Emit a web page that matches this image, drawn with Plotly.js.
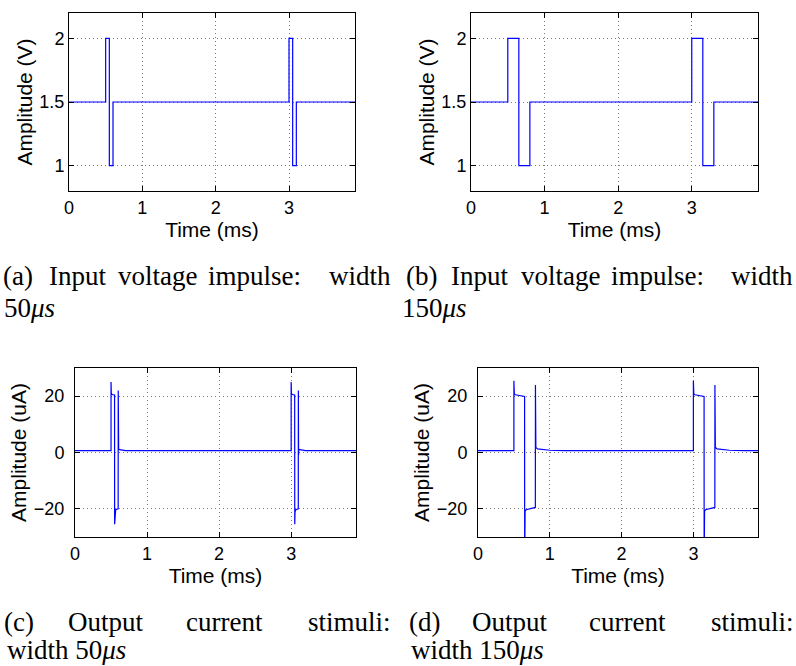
<!DOCTYPE html>
<html>
<head>
<meta charset="utf-8">
<script src="https://cdn.plot.ly/plotly-3.0.1.min.js"></script>
<style>html,body{margin:0;padding:0;background:#fff;}#chart{width:796px;height:666px;}</style>
</head>
<body>
<div id="chart"></div>
<script>
// ---- data ----
// (a) input voltage impulse, width 50 us  (step levels, hold until next time)
const tA = [0, 0.5, 0.55, 0.6, 3.0, 3.05, 3.1, 3.9];
const vA = [1.5, 2, 1, 1.5, 2, 1, 1.5, 1.5];
// (b) input voltage impulse, width 150 us
const tB = [0, 0.5, 0.65, 0.8, 3.0, 3.15, 3.3, 3.9];
const vB = [1.5, 2, 1, 1.5, 2, 1, 1.5, 1.5];
// (c) output current stimuli, width 50 us
const tC = [0, 0.5, 0.5, 0.504, 0.515, 0.549, 0.55, 0.554, 0.565, 0.599, 0.6, 0.603, 0.606, 0.62, 0.7,
            3.0, 3.0, 3.004, 3.015, 3.049, 3.05, 3.054, 3.065, 3.099, 3.1, 3.103, 3.106, 3.12, 3.2, 3.9];
const iC = [0.7, 0.7, 25, 21, 20.6, 20.4, -25.5, -21, -20.3, -20.0, 22, -1, 1.2, 1.0, 0.7,
            0.7, 25, 21, 20.6, 20.4, -25.5, -21, -20.3, -20.0, 22, -1, 1.2, 1.0, 0.7, 0.7];
// (d) output current stimuli, width 150 us
const tD = [0, 0.5, 0.5, 0.506, 0.52, 0.649, 0.65, 0.656, 0.67, 0.799, 0.8, 0.806, 0.83, 0.9, 1.0, 1.2,
            3.0, 3.0, 3.006, 3.02, 3.149, 3.15, 3.156, 3.17, 3.299, 3.3, 3.306, 3.33, 3.4, 3.5, 3.7, 3.9];
const iD = [0.7, 0.7, 25.5, 20.8, 20.5, 19.9, -40, -20.8, -20.3, -19.5, 24, 1.8, 1.3, 1.0, 0.8, 0.7,
            0.7, 25.5, 20.8, 20.5, 19.9, -40, -20.8, -20.3, -19.5, 24, 1.8, 1.3, 1.0, 0.8, 0.7, 0.7];

const xTicks = [0, 1, 2, 3];
const vTicks = [1, 1.5, 2];
const vTickText = ['1', '1.5', '2'];
const iTicks = [-20, 0, 20];
const iTickText = ['\u221220', '0', '20'];

const xTitle = 'Time (ms)';
const vTitle = 'Amplitude (V)';
const iTitle = 'Amplitude (uA)';

const captions = [
  // [text, x center(px), y center(px)]
  ['(a)', 18, 276], ['Input', 77, 276], ['voltage', 157, 276], ['impulse:', 254, 276], ['width', 360, 276],
  ['50<i>μs</i>', 29, 308],
  ['(b)', 421, 276], ['Input', 480, 276], ['voltage', 560, 276], ['impulse:', 657, 276], ['width', 762, 276],
  ['150<i>μs</i>', 434, 308],
  ['(c)', 19, 622], ['Output', 106, 622], ['current', 225, 622], ['stimuli:', 349, 622],
  ['width 50<i>μs</i>', 66, 650],
  ['(d)', 425, 622], ['Output', 510, 622], ['current', 627, 622], ['stimuli:', 752, 622],
  ['width 150<i>μs</i>', 477, 650]
];

// ---- layout helpers ----
const W = 796, H = 666;
const sans = 'Liberation Sans, Arial, sans-serif';
function xd(l, r) { return [l / W, r / W]; }
function yd(t, b) { return [1 - b / H, 1 - t / H]; }

function common() {
  return {
    ticks: 'inside', ticklen: 5, tickcolor: '#000', showline: true, linecolor: '#000', linewidth: 1,
    mirror: 'ticks', showgrid: true, gridcolor: '#7a7a7a', griddash: '1px,3px', gridwidth: 1, zeroline: false,
    tickfont: {family: sans, size: 18, color: '#000'}
  };
}
function xAxis(dom, anchor) {
  return Object.assign(common(), {
    domain: dom, anchor: anchor, range: [0, 3.9], tickvals: xTicks,
    title: {text: xTitle, font: {family: sans, size: 21, color: '#000'}, standoff: 2}
  });
}
function yAxis(dom, anchor, range, tv, tt, title, lstand) {
  return Object.assign(common(), {
    domain: dom, anchor: anchor, range: range, tickvals: tv, ticktext: tt, ticklabelstandoff: lstand,
    title: {text: title, font: {family: sans, size: 21, color: '#000'}, standoff: 1}
  });
}

const lineStyle = {color: '#0000ff', width: 1.2};
const traces = [
  {x: tA, y: vA, type: 'scatter', mode: 'lines', line: Object.assign({shape: 'hv'}, lineStyle), xaxis: 'x', yaxis: 'y'},
  {x: tB, y: vB, type: 'scatter', mode: 'lines', line: Object.assign({shape: 'hv'}, lineStyle), xaxis: 'x2', yaxis: 'y2'},
  {x: tC, y: iC, type: 'scatter', mode: 'lines', line: lineStyle, xaxis: 'x3', yaxis: 'y3'},
  {x: tD, y: iD, type: 'scatter', mode: 'lines', line: lineStyle, xaxis: 'x4', yaxis: 'y4'}
];

const layout = {
  width: W, height: H, margin: {l: 0, r: 0, t: 0, b: 0},
  paper_bgcolor: '#fff', plot_bgcolor: '#fff', showlegend: false,
  xaxis: xAxis(xd(69, 355), 'y'),
  yaxis: yAxis(yd(13, 191), 'x', [0.8, 2.2], vTicks, vTickText, vTitle, 0),
  xaxis2: xAxis(xd(471, 758), 'y2'),
  yaxis2: yAxis(yd(13, 191), 'x2', [0.8, 2.2], vTicks, vTickText, vTitle, 0),
  xaxis3: xAxis(xd(75, 356), 'y3'),
  yaxis3: yAxis(yd(368, 537), 'x3', [-30, 30], iTicks, iTickText, iTitle, 6),
  xaxis4: xAxis(xd(478, 758), 'y4'),
  yaxis4: yAxis(yd(368, 537), 'x4', [-30, 30], iTicks, iTickText, iTitle, 6),
  annotations: captions.map(c => ({
    text: c[0], x: c[1] / W, y: 1 - c[2] / H, xref: 'paper', yref: 'paper',
    xanchor: 'center', yanchor: 'middle', showarrow: false,
    font: {family: 'Liberation Serif, Times New Roman, serif', size: 27, color: '#000'}
  }))
};

Plotly.newPlot('chart', traces, layout, {staticPlot: true, displayModeBar: false});
</script>
</body>
</html>
